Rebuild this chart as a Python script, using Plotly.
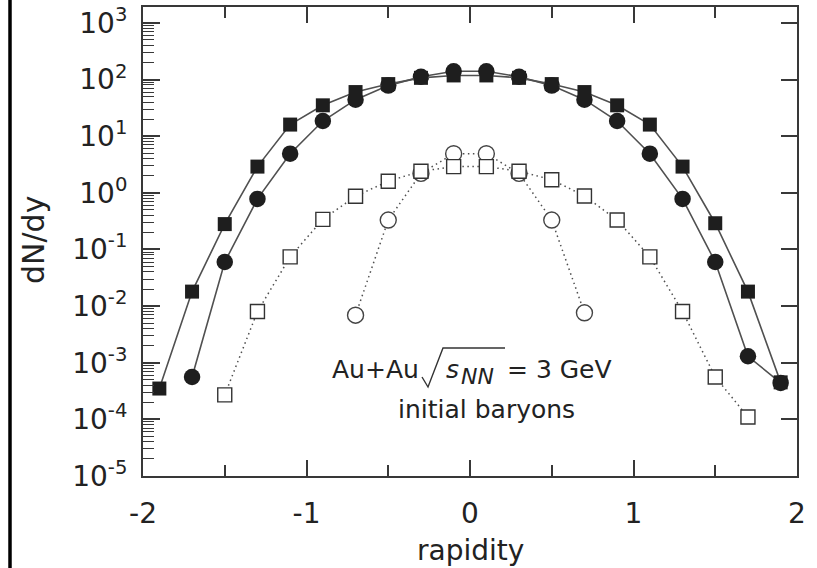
import plotly.graph_objects as go

# ---- data ----
y_sq = [-1.9, -1.7, -1.5, -1.3, -1.1, -0.9, -0.7, -0.5, -0.3, -0.1,
        0.1, 0.3, 0.5, 0.7, 0.9, 1.1, 1.3, 1.5, 1.7, 1.9]
sq_filled = [3.5e-4, 0.018, 0.28, 2.9, 16, 35, 60, 83, 107, 118,
             118, 107, 83, 60, 35, 16, 2.9, 0.29, 0.018, 4.5e-4]

y_ci = [-1.7, -1.5, -1.3, -1.1, -0.9, -0.7, -0.5, -0.3, -0.1,
        0.1, 0.3, 0.5, 0.7, 0.9, 1.1, 1.3, 1.5, 1.7, 1.9]
ci_filled = [5.6e-4, 0.06, 0.78, 4.9, 18.5, 44, 78, 112, 140,
             140, 112, 78, 44, 18.5, 4.9, 0.78, 0.06, 1.3e-3, 4.4e-4]

y_osq = [-1.5, -1.3, -1.1, -0.9, -0.7, -0.5, -0.3, -0.1,
         0.1, 0.3, 0.5, 0.7, 0.9, 1.1, 1.3, 1.5, 1.7]
sq_open = [2.7e-4, 0.008, 0.074, 0.34, 0.87, 1.6, 2.4, 2.9,
           2.9, 2.4, 1.7, 0.88, 0.33, 0.074, 0.008, 5.6e-4, 1.1e-4]

y_oci = [-0.7, -0.5, -0.3, -0.1, 0.1, 0.3, 0.5, 0.7]
ci_open = [0.0069, 0.33, 2.2, 4.9, 4.9, 2.2, 0.33, 0.0076]

ytick_vals = [1e-5, 1e-4, 1e-3, 1e-2, 1e-1, 1, 10, 100, 1000]
ytick_text = ["10<sup>-5</sup>", "10<sup>-4</sup>", "10<sup>-3</sup>", "10<sup>-2</sup>",
              "10<sup>-1</sup>", "10<sup>0</sup>", "10<sup>1</sup>", "10<sup>2</sup>",
              "10<sup>3</sup>"]
xtick_vals = [-2, -1, 0, 1, 2]
xtick_text = ["-2", "-1", "0", "1", "2"]
xminor_vals = [-1.5, -0.5, 0.5, 1.5]

x_title = "rapidity"
y_title = "dN/dy"
label_system = "Au+Au"
label_energy = "= 3 GeV"
label_note = "initial baryons"

# ---- styling ----
FONT = "DejaVu Sans, Liberation Sans, Arial, sans-serif"
AX = "#383838"
LINE = "#505050"
MK = "#1e1e1e"
TXT = "#222222"
DOT = "1.5px,3.5px"

# plot area in pixels (for placing the text pieces)
L, R, T, B = 143, 797, 7, 476
def px(x):
    return (x - L) / (R - L)
def py(y):
    return (B - y) / (B - T)

fig = go.Figure()
fig.add_trace(go.Scatter(x=y_oci, y=ci_open, mode="lines+markers",
                         line=dict(color=LINE, width=1.5, dash=DOT),
                         marker=dict(symbol="circle", size=16, color="white",
                                     line=dict(color="#444444", width=1.4))))
fig.add_trace(go.Scatter(x=y_osq, y=sq_open, mode="lines+markers",
                         line=dict(color=LINE, width=1.5, dash=DOT),
                         marker=dict(symbol="square", size=14, color="white",
                                     line=dict(color="#333333", width=1.4))))
fig.add_trace(go.Scatter(x=y_ci, y=ci_filled, mode="lines+markers",
                         line=dict(color=LINE, width=1.6),
                         marker=dict(symbol="circle", size=16.5, color=MK,
                                     line=dict(width=0))))
fig.add_trace(go.Scatter(x=y_sq, y=sq_filled, mode="lines+markers",
                         line=dict(color=LINE, width=1.6),
                         marker=dict(symbol="square", size=14, color=MK,
                                     line=dict(width=0))))
# invisible trace to activate the right-hand axis
fig.add_trace(go.Scatter(x=[0], y=[1], yaxis="y2", mode="markers",
                         marker=dict(opacity=0), hoverinfo="skip"))

tickfont = dict(family=FONT, size=28, color=TXT)
fig.update_layout(
    width=817, height=568,
    margin=dict(l=L, r=817 - R, t=T, b=568 - B),
    paper_bgcolor="white", plot_bgcolor="white",
    showlegend=False,
    font=dict(family=FONT, size=28, color=TXT),
    xaxis=dict(range=[-2, 2], tickvals=xtick_vals, ticktext=xtick_text,
               automargin=False, ticklabelstandoff=11,
               ticks="inside", ticklen=16, tickwidth=1.8, tickcolor=AX,
               showline=True, linecolor=AX, linewidth=2, mirror="ticks",
               showgrid=False, zeroline=False,
               minor=dict(tickvals=xminor_vals, ticks="inside",
                          ticklen=11, tickwidth=1.8, tickcolor=AX, showgrid=False),
               tickfont=tickfont),
    yaxis=dict(type="log", range=[-5, 3.28], tickvals=ytick_vals, ticktext=ytick_text,
               automargin=False, ticklabelstandoff=8,
               ticks="inside", ticklen=17, tickwidth=1.8, tickcolor=AX,
               showline=True, linecolor=AX, linewidth=2, mirror=False,
               showgrid=False, zeroline=False,
               minor=dict(dtick="D1", ticks="inside", ticklen=11, tickwidth=1.3,
                          tickcolor=AX, showgrid=False),
               tickfont=tickfont),
    yaxis2=dict(type="log", range=[-5, 3.28], overlaying="y", side="right",
                tickvals=ytick_vals, showticklabels=False, automargin=False,
                ticks="inside", ticklen=16, tickwidth=1.8, tickcolor=AX,
                showline=True, linecolor=AX, linewidth=2,
                showgrid=False, zeroline=False),
)

def note(text, x, y, size, xanchor="center", italic=False, angle=0):
    fig.add_annotation(xref="paper", yref="paper", x=x, y=y, text=text,
                       showarrow=False, xanchor=xanchor, yanchor="middle",
                       borderpad=0, borderwidth=0, textangle=angle,
                       font=dict(family=FONT, size=size, color=TXT,
                                 style="italic" if italic else "normal"))

# axis titles
note(x_title, 0.5, py(550), 28)
note(y_title, px(33), py(240), 30, angle=-90)

# "Au+Au sqrt(s_NN) = 3 GeV" / "initial baryons"
note(label_system, px(419), py(369.5), 25, xanchor="right")
note("s", px(446), py(369.5), 25, xanchor="left", italic=True)
note("NN", px(461), py(376), 22, xanchor="left", italic=True)
note(label_energy, px(507), py(369.5), 25, xanchor="left")
note(label_note, px(486), py(409.5), 25)

# square-root sign with its overline
fig.add_shape(type="path", xref="paper", yref="paper",
              path=(f"M {px(422)},{py(377)} L {px(428)},{py(387)} "
                    f"L {px(443)},{py(348)} L {px(505)},{py(348)}"),
              line=dict(color="#333333", width=1.4))

# thick border at the left edge of the picture
fig.add_shape(type="line", xref="paper", yref="paper", x0=px(10), x1=px(10),
              y0=py(568), y1=py(0), line=dict(color="black", width=3.5))

fig.write_html("out.html", config={"displayModeBar": False},
               post_script="document.body.style.margin='0px';")
